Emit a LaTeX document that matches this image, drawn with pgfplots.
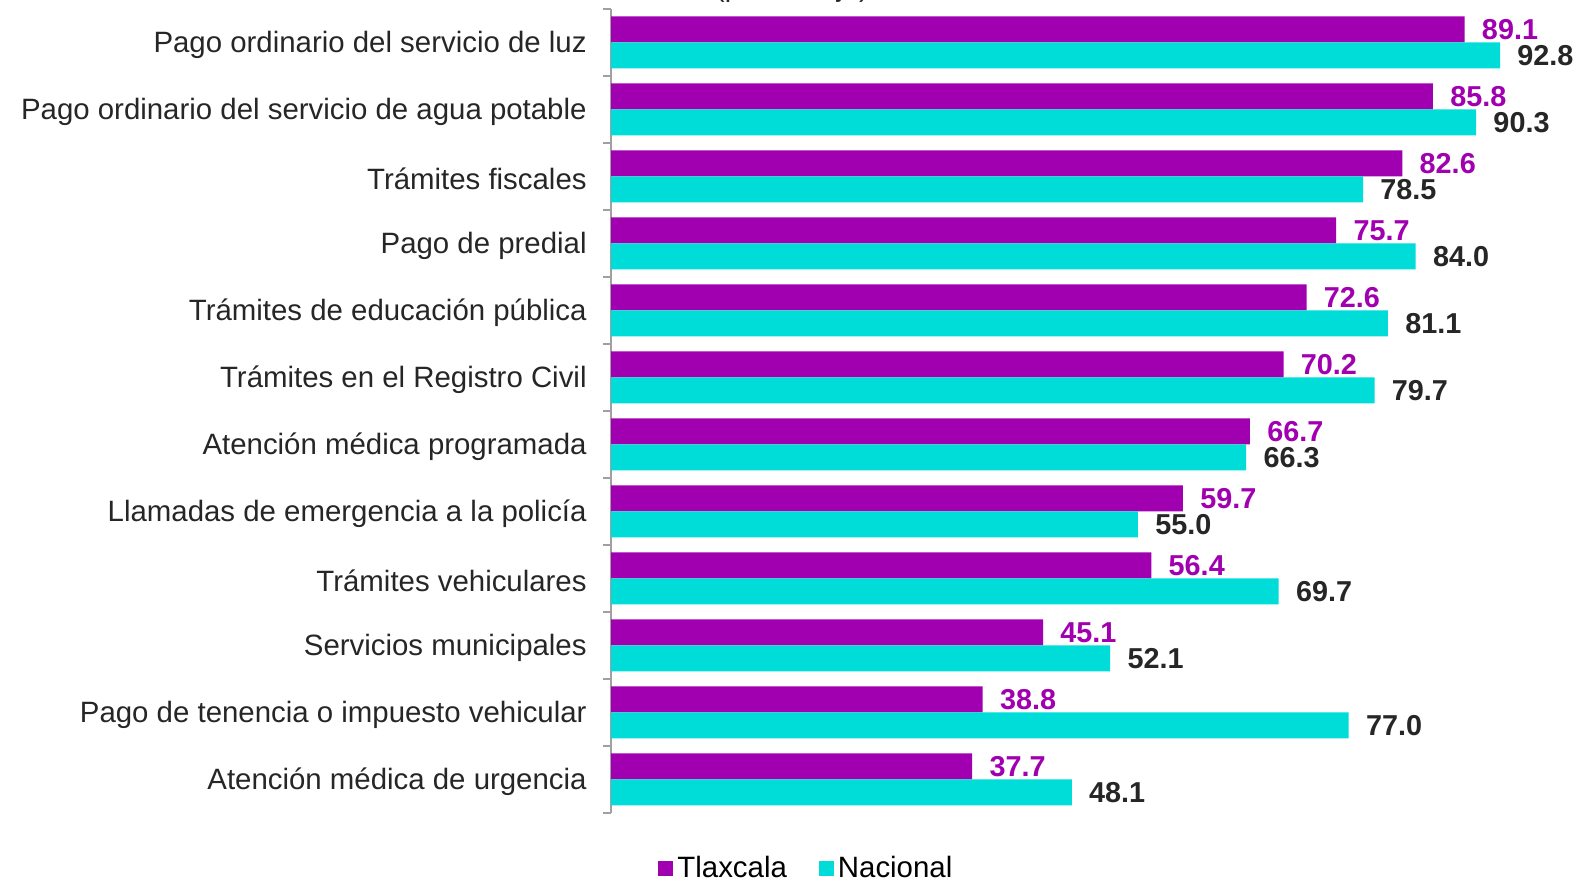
\documentclass[border=0pt]{standalone}
\usepackage{pgfplots}
\pgfplotsset{compat=1.18}
\usepackage{fontspec}
\setmainfont{Liberation Sans}
\definecolor{tlax}{RGB}{160,0,176}
\definecolor{nac}{RGB}{0,220,216}
\definecolor{txt}{RGB}{38,38,38}
\definecolor{axgray}{RGB}{160,160,160}
\begin{document}
\begin{tikzpicture}
\useasboundingbox (0,0) rectangle (789pt,440.5pt);
\node[overlay, anchor=base, font=\fontsize{14.4}{17}\selectfont, text=txt] at (396pt,442pt) {(porcentaje)};
\begin{axis}[
 at={(305.5pt,34pt)}, anchor=south west,
 scale only axis, width=479pt, height=402pt,
 xmin=0, xmax=100, ymin=-0.5, ymax=11.5,
 xbar, bar width=13pt,
 axis x line=none, axis y line*=left,
 axis line style={axgray, line width=0.8pt},
 ytick={0,...,11},
 yticklabels={Atención médica de urgencia, Pago de tenencia o impuesto vehicular, Servicios municipales, Trámites vehiculares, Llamadas de emergencia a la policía, Atención médica programada, Trámites en el Registro Civil, Trámites de educación pública, Pago de predial, Trámites fiscales, Pago ordinario del servicio de agua potable, Pago ordinario del servicio de luz},
 minor ytick={-0.5,0.5,...,11.5},
 major tick length=0pt, minor tick length=4pt, tick align=outside,
 tick style={axgray, line width=0.8pt},
 yticklabel style={font=\fontsize{14.7}{17}\selectfont, text=txt, inner sep=0pt, xshift=-12pt, yshift=-1pt},
 nodes near coords,
 nodes near coords style={font=\bfseries\fontsize{14.4}{17}\selectfont, anchor=west, inner sep=0pt, xshift=8.5pt},
 /pgf/number format/.cd, fixed, fixed zerofill, precision=1, assume math mode=true, /pgfplots/.cd,
 legend style={at={(0.205,-0.0684)}, anchor=center, draw=none, legend columns=2,
   font=\fontsize{14.7}{17}\selectfont, text=black,
   /tikz/every even column/.append style={column sep=14pt}},
 legend image code/.code={\fill[#1,draw=none] (0.5pt,-4pt) rectangle (8pt,3.5pt);},
]
\addplot[fill=tlax, draw=none, bar shift=6.5pt, every node near coord/.append style={text=tlax}]
 coordinates {(89.1,11) (85.8,10) (82.6,9) (75.7,8) (72.6,7) (70.2,6) (66.7,5) (59.7,4) (56.4,3) (45.1,2) (38.8,1) (37.7,0)};
\addlegendentry{Tlaxcala}
\addplot[fill=nac, draw=none, bar shift=-6.5pt, every node near coord/.append style={text=txt}]
 coordinates {(92.8,11) (90.3,10) (78.5,9) (84.0,8) (81.1,7) (79.7,6) (66.3,5) (55.0,4) (69.7,3) (52.1,2) (77.0,1) (48.1,0)};
\addlegendentry{Nacional}
\end{axis}
\end{tikzpicture}
\end{document}
